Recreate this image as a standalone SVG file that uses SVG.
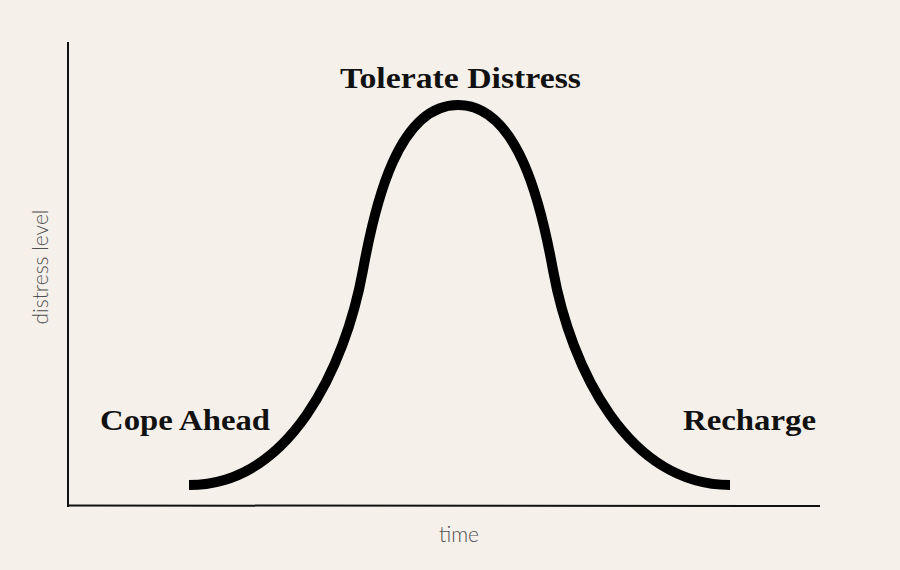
<svg xmlns="http://www.w3.org/2000/svg" width="900" height="570" viewBox="0 0 900 570">
<style>
.lbl{font-family:"Liberation Serif","Times New Roman",serif;font-weight:bold;font-size:30px;fill:#111;}
.ax{font-family:Lato,"Open Sans","Liberation Sans",sans-serif;font-weight:300;font-size:21px;fill:#4f4f4f;}
.axis{stroke:#111;stroke-width:2;fill:none;}
.curve{stroke:#000;stroke-width:10;fill:none;stroke-linecap:butt;}
</style>
<rect x="0" y="0" width="900" height="570" fill="#F5F0EA"/>
<g id="axes">
<line class="axis" x1="68" y1="42" x2="68" y2="507"/>
<line class="axis" x1="67" y1="505.5" x2="820" y2="506"/>
<text class="ax" transform="translate(48,267) rotate(-90)" text-anchor="middle">distress level</text>
<text class="ax" x="459" y="542" text-anchor="middle">time</text>
</g>
<g id="curve">
<path class="curve" d="M189,485 C289,485 345,369 363,270 C375,204 398,105 458,105 C518,105 541,204 553,270 C571,369 628,485 730,485"/>
</g>
<g id="node-tolerate"><text class="lbl" x="340" y="88" textLength="241" lengthAdjust="spacingAndGlyphs">Tolerate Distress</text></g>
<g id="node-cope"><text class="lbl" x="100" y="430" textLength="170" lengthAdjust="spacingAndGlyphs">Cope Ahead</text></g>
<g id="node-recharge"><text class="lbl" x="683" y="430" textLength="133" lengthAdjust="spacingAndGlyphs">Recharge</text></g>
</svg>
